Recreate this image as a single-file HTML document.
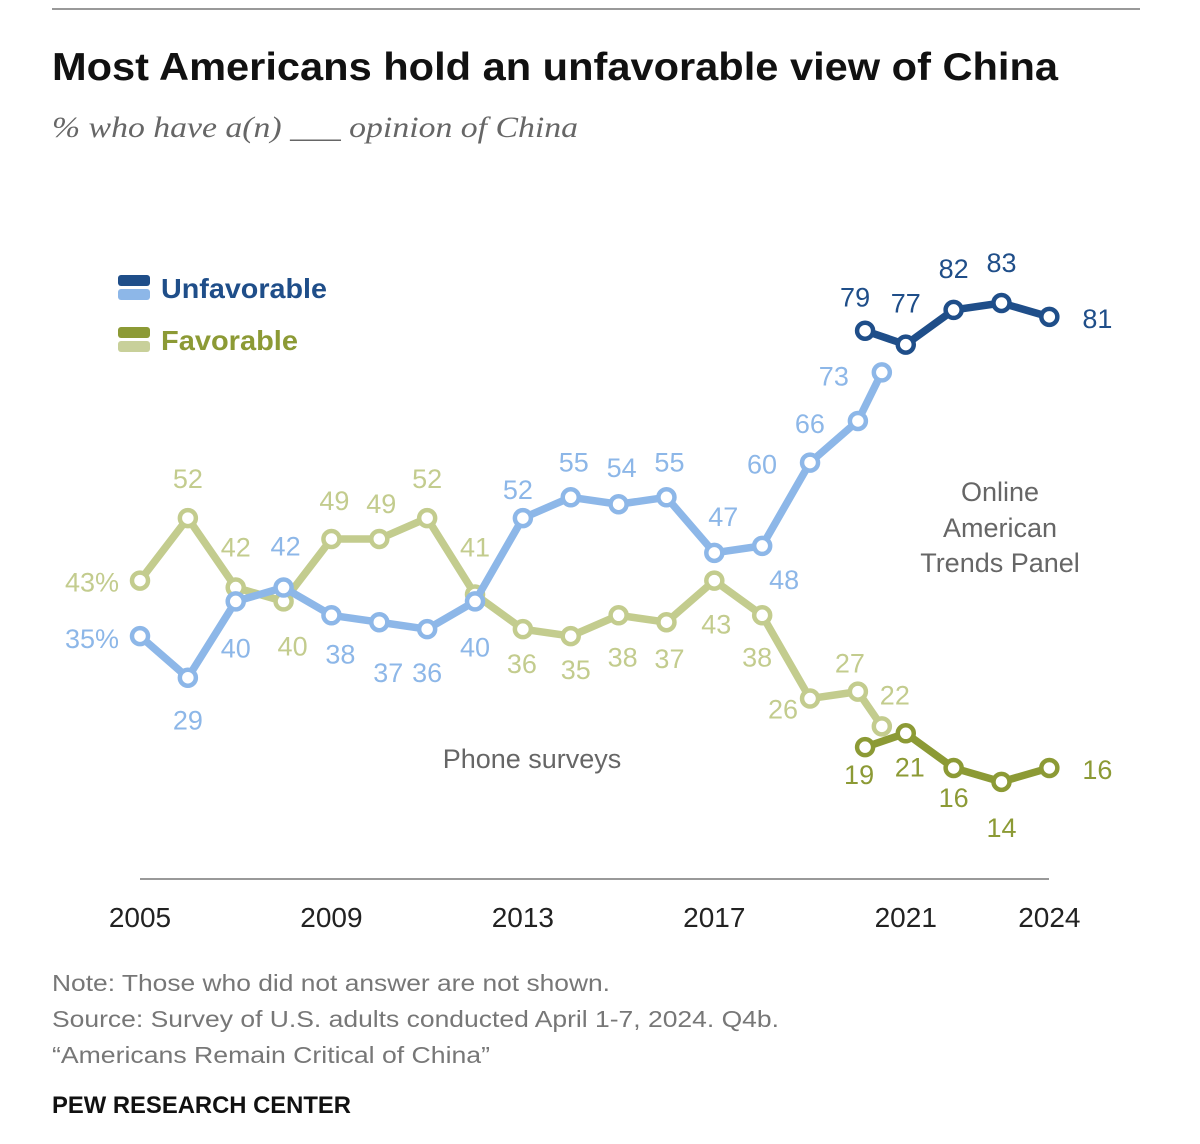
<!DOCTYPE html>
<html><head><meta charset="utf-8"><style>
body{margin:0;background:#fff;width:1200px;height:1144px;overflow:hidden;font-family:"Liberation Sans",sans-serif}
svg{display:block}
</style></head><body>
<svg width="1200" height="1144" id="chart">
<line x1="52" y1="9" x2="1140" y2="9" stroke="#999" stroke-width="2"/>
<text x="52" y="80" font-size="39" font-weight="bold" fill="#111" textLength="1006" lengthAdjust="spacingAndGlyphs">Most Americans hold an unfavorable view of China</text>
<text x="52" y="137" font-size="30" font-style="italic" font-family="Liberation Serif,serif" fill="#666" textLength="526" lengthAdjust="spacingAndGlyphs">% who have a(n) ___ opinion of China</text>
<g>
<rect x="118" y="275" width="32" height="11" rx="3" fill="#1f4e89"/>
<rect x="118" y="289" width="32" height="11" rx="3" fill="#8db7e8"/>
<text x="161" y="298" font-size="28" font-weight="bold" fill="#1f4e89" textLength="166" lengthAdjust="spacingAndGlyphs">Unfavorable</text>
<rect x="118" y="327" width="32" height="11" rx="3" fill="#8c9a35"/>
<rect x="118" y="341" width="32" height="11" rx="3" fill="#c8d09a"/>
<text x="161" y="350" font-size="28" font-weight="bold" fill="#8c9a35" textLength="137" lengthAdjust="spacingAndGlyphs">Favorable</text>
</g>
<g font-size="27" fill="#666" text-anchor="middle">
<text x="1000" y="501">Online</text><text x="1000" y="537">American</text><text x="1000" y="572">Trends Panel</text>
</g>
<text x="532" y="768" font-size="27" fill="#666" text-anchor="middle">Phone surveys</text>
<line x1="140" y1="879" x2="1049" y2="879" stroke="#999" stroke-width="2"/>
<g id="xticks" font-size="28" fill="#222" text-anchor="middle"></g>
<g id="marks"></g>
<g font-size="23" fill="#777">
<text x="52" y="991" textLength="558" lengthAdjust="spacingAndGlyphs">Note: Those who did not answer are not shown.</text>
<text x="52" y="1027" textLength="727" lengthAdjust="spacingAndGlyphs">Source: Survey of U.S. adults conducted April 1-7, 2024. Q4b.</text>
<text x="52" y="1063" textLength="438" lengthAdjust="spacingAndGlyphs">“Americans Remain Critical of China”</text>
</g>
<text x="52" y="1113" font-size="24" font-weight="bold" fill="#111" textLength="299" lengthAdjust="spacingAndGlyphs">PEW RESEARCH CENTER</text>
</svg>
<script>
const phoneYears=[2005,2006,2007,2008,2009,2010,2011,2012,2013,2014,2015,2016,2017,2018,2019,2020,2020.5];
const phoneUnfav=[35,29,40,42,38,37,36,40,52,55,54,55,47,48,60,66,73];
const phoneFav=[43,52,42,40,49,49,52,41,36,35,38,37,43,38,26,27,22];
const onlineYears=[2020.15,2021,2022,2023,2024];
const onlineUnfav=[79,77,82,83,81];
const onlineFav=[19,21,16,14,16];
const tickYears=[2005,2009,2013,2017,2021,2024];
// label offsets (style, not data)
const offPU=[[-48,2],[0,42],[0,46],[2,-42],[9,38],[9,50],[0,43],[0,45],[-5,-29],[3,-36],[3,-37],[3,-36],[9,-37],[22,33],[-48,1],[-48,2],[-48,3]];
const offPF=[[-48,1],[0,-40],[0,-41],[9,44],[3,-39],[2,-36],[0,-40],[0,-48],[-1,34],[5,33],[4,41],[3,36],[2,43],[-5,41],[-27,10],[-8,-29],[13,-32]];
const offOU=[[-10,-34],[0,-42],[0,-42],[0,-41],[48,1]];
const offOF=[[-6,27],[4,33],[0,29],[0,45],[48,1]];
const xS=y=>140+(y-2005)*47.86;
const yS=v=>879-v*6.94;
const NS='http://www.w3.org/2000/svg';
const ticks=document.getElementById('xticks');
tickYears.forEach(t=>{const e=document.createElementNS(NS,'text');e.setAttribute('x',xS(t));e.setAttribute('y',927);e.textContent=t;


ticks.appendChild(e);});
const marks=document.getElementById('marks');
function series(name,years,vals,color,offs,pctFirst){
  const g=document.createElementNS(NS,'g');
  
  
  const p=document.createElementNS(NS,'polyline');
  p.setAttribute('points',years.map((y,i)=>xS(y)+','+yS(vals[i])).join(' '));
  p.setAttribute('fill','none');p.setAttribute('stroke',color);p.setAttribute('stroke-width','7.5');p.setAttribute('stroke-linejoin','round');
  
  
  g.appendChild(p);
  years.forEach((y,i)=>{
    const c=document.createElementNS(NS,'circle');
    c.setAttribute('cx',xS(y));c.setAttribute('cy',yS(vals[i]));c.setAttribute('r','8');c.setAttribute('fill','#fff');c.setAttribute('stroke',color);c.setAttribute('stroke-width','4.5');
    
    
    g.appendChild(c);
    const t=document.createElementNS(NS,'text');
    t.setAttribute('x',xS(y)+offs[i][0]);t.setAttribute('y',yS(vals[i])+offs[i][1]+10);
    t.setAttribute('text-anchor','middle');t.setAttribute('font-size','27');t.setAttribute('fill',color);
    t.textContent=vals[i]+(pctFirst&&i===0?'%':'');
    
    
    g.appendChild(t);
  });
  marks.appendChild(g);
}
series('favorable-phone',phoneYears,phoneFav,'#c3cc8e',offPF,true);
series('unfavorable-phone',phoneYears,phoneUnfav,'#8db7e8',offPU,true);
series('unfavorable-online',onlineYears,onlineUnfav,'#1f4e89',offOU,false);
series('favorable-online',onlineYears,onlineFav,'#8c9a35',offOF,false);
</script>
</body></html>
